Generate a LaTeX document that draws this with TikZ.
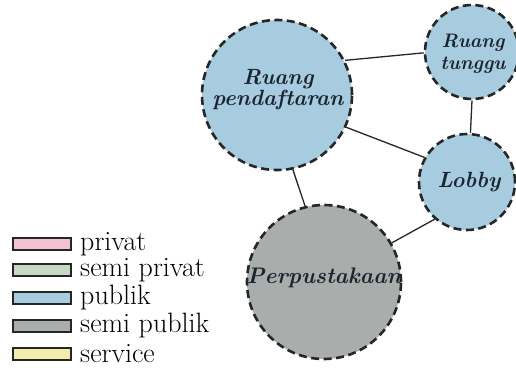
\documentclass[tikz,border=0pt]{standalone}
\usepackage{fontspec}
\begin{document}
\begin{tikzpicture}[x=1pt,y=-1pt,
  room/.style={circle,draw=black!85,line width=2.6pt,dash pattern=on 8pt off 4.5pt,
    inner sep=0pt,align=center,text=roomtext},
  publik/.style={room,fill=publikc},
  semipublik/.style={room,fill=semipublikc},
  roomname/.style={inner sep=0pt,align=center,text=roomtext},
  link/.style={line width=1.3pt,draw=black!85},
  legbox/.style={draw=black!85,line width=1.3pt,minimum width=58pt,minimum height=12pt,inner sep=0pt},
  legtext/.style={anchor=west,inner sep=0pt,font=\fontsize{28}{30}\selectfont}]
\definecolor{privatc}{HTML}{F2C4D2}
\definecolor{semiprivatc}{HTML}{C8DAC2}
\definecolor{publikc}{HTML}{A8CCDF}
\definecolor{semipublikc}{HTML}{A9ADAC}
\definecolor{servicec}{HTML}{F3ECAA}
\definecolor{roomtext}{HTML}{1A2530}
\useasboundingbox (0,0) rectangle (516,367);
\fill[white] (0,0) rectangle (516,367);

% rooms
\node[publik,minimum size=150pt] (rp) at (277,95) {};
\node[publik,minimum size=94pt] (rt) at (472,52) {};
\node[publik,minimum size=96pt] (lb) at (467,182) {};
\node[semipublik,minimum size=154pt] (pp) at (324,282) {};

% room names
\node[roomname,font=\fontsize{22}{21}\selectfont\bfseries\itshape] (rpt) at (278,90) {Ruang\\pendaftaran};
\node[roomname,font=\fontsize{19.5}{22}\selectfont\bfseries\itshape] (rtt) at (473,54) {Ruang\\tunggu};
\node[roomname,font=\fontsize{22}{24}\selectfont\bfseries\itshape] (lbt) at (469,182) {Lobby};
\node[roomname,font=\fontsize{22.5}{24}\selectfont\bfseries\itshape] (ppt) at (324,278) {Perpustakaan};

% relations
\draw[link] (rp.27) -- (rt.181);
\draw[link] (rp.-25) -- (lb.150);
\draw[link] (rt.270) -- (lb.86);
\draw[link] (rp.-78) -- (pp.104);
\draw[link] (lb.-131) -- (pp.30);

% legend
\node[legbox,fill=privatc] (k1) at (42,244) {};
\node[legbox,fill=semiprivatc] (k2) at (42,270) {};
\node[legbox,fill=publikc] (k3) at (42,298) {};
\node[legbox,fill=semipublikc] (k4) at (42,326) {};
\node[legbox,fill=servicec] (k5) at (42,354) {};
\node[legtext] (t1) at (80,244) {privat};
\node[legtext] (t2) at (80,270) {semi privat};
\node[legtext] (t3) at (80,298) {publik};
\node[legtext] (t4) at (80,326) {semi publik};
\node[legtext] (t5) at (80,354) {service};
\end{tikzpicture}
\end{document}
